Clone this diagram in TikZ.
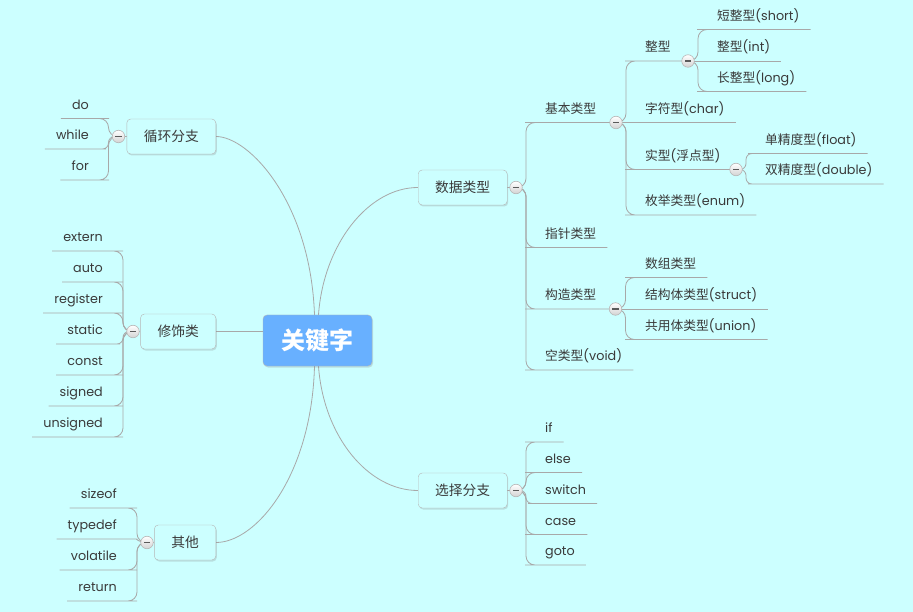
\documentclass[tikz,border=0pt]{standalone}
\usepackage{fontspec}
\setmainfont{Poppins}
\newfontfamily\zhfont{Noto Sans CJK SC}
\newcommand{\zhtext}[1]{{\zhfont #1}}
\usetikzlibrary{positioning,shadows}
\definecolor{bgcyan}{RGB}{204,255,255}
\definecolor{rootblue}{RGB}{104,176,255}
\definecolor{linegray}{RGB}{168,168,168}
\definecolor{boxgray}{RGB}{182,182,182}
\definecolor{txtgray}{RGB}{58,58,58}
\definecolor{minusgray}{RGB}{90,90,90}
\pgfdeclarelayer{bg}
\pgfsetlayers{bg,main}

\begin{document}
\begin{tikzpicture}[x=1pt,y=1pt,
  topic/.style={draw=boxgray, fill=bgcyan, rounded corners=4pt, minimum height=35pt, inner xsep=17pt,
    font=\zhfont\fontsize{13.75}{16}\selectfont, text=txtgray,
    drop shadow={opacity=0.25, shadow xshift=1pt, shadow yshift=-1.5pt}},
  leaf/.style={inner xsep=11pt, inner ysep=6.2pt, text height=9pt, text depth=3pt,
    font=\fontsize{12.75}{15}\selectfont, text=txtgray},
  fold/.style={circle, draw=boxgray, line width=0.6pt, minimum size=12.5pt, inner sep=0pt,
    top color=white, bottom color=gray!35,
    path picture={\fill[minusgray] ([xshift=-3.2pt,yshift=-0.9pt]path picture bounding box.center)
      rectangle ([xshift=3.2pt,yshift=0.9pt]path picture bounding box.center);}},
  branch/.style={draw=linegray, line width=0.8pt, rounded corners=9pt},
  tight/.style={rounded corners=6pt}]

\useasboundingbox (0,0) rectangle (913,-612);

% centre and main topics
\node[topic, fill=rootblue, text=white, minimum width=109pt, minimum height=51pt,
  font=\zhfont\bfseries\fontsize{24}{28}\selectfont] (root) at (317.5,-340.5) {关键字};
\node[topic, anchor=west] (data)  at (418,-187.5) {数据类型};
\node[topic, anchor=west] (sel)   at (418,-490.5) {选择分支};
\node[topic, anchor=east] (loop)  at (216,-136.5) {循环分支};
\node[topic, anchor=east] (mod)   at (216,-331.5) {修饰类};
\node[topic, anchor=east] (other) at (216,-542.5) {其他};

% fold buttons
\node[fold] (dataf)   at (516,-187.5) {};
\node[fold] (self)    at (516,-490.5) {};
\node[fold] (loopf)   at (118.5,-136.5) {};
\node[fold] (modf)    at (133,-331.5) {};
\node[fold] (otherf)  at (147,-542.5) {};
\node[fold] (basicf)  at (616,-122.5) {};
\node[fold] (intf)    at (688,-61) {};
\node[fold] (realf)   at (736,-169.5) {};
\node[fold] (structf) at (615.5,-309) {};

% data types
\node[leaf, anchor=south west] (basic)  at (534,-122.5) {\zhtext{基本类型}};
\node[leaf, anchor=south west] (ptr)    at (534,-247.5) {\zhtext{指针类型}};
\node[leaf, anchor=south west] (struct) at (534,-309)   {\zhtext{构造类型}};
\node[leaf, anchor=south west] (void)   at (534,-370)   {\zhtext{空类型}(void)};

\node[leaf, anchor=south west] (int)  at (634,-61)    {\zhtext{整型}};
\node[leaf, anchor=south west] (char) at (634,-122.5) {\zhtext{字符型}(char)};
\node[leaf, anchor=south west] (real) at (634,-169.5) {\zhtext{实型}(\zhtext{浮点型})};
\node[leaf, anchor=south west] (enum) at (634,-215)   {\zhtext{枚举类型}(enum)};

\node[leaf, anchor=south west] (short) at (706,-29.5) {\zhtext{短整型}(short)};
\node[leaf, anchor=south west] (intv)  at (706,-61)   {\zhtext{整型}(int)};
\node[leaf, anchor=south west] (long)  at (706,-91.5) {\zhtext{长整型}(long)};

\node[leaf, anchor=south west] (float)  at (754,-153.5) {\zhtext{单精度型}(float)};
\node[leaf, anchor=south west] (double) at (754,-184)   {\zhtext{双精度型}(double)};

\node[leaf, anchor=south west] (array)   at (634,-277.5) {\zhtext{数组类型}};
\node[leaf, anchor=south west] (structv) at (634,-309)   {\zhtext{结构体类型}(struct)};
\node[leaf, anchor=south west] (union)   at (634,-339.5) {\zhtext{共用体类型}(union)};

% selection
\node[leaf, anchor=south west] (s-if)     at (534,-442)   {if};
\node[leaf, anchor=south west] (s-else)   at (534,-472.5) {else};
\node[leaf, anchor=south west] (s-switch) at (534,-503.5) {switch};
\node[leaf, anchor=south west] (s-case)   at (534,-534.5) {case};
\node[leaf, anchor=south west] (s-goto)   at (534,-565)   {goto};

% loops
\node[leaf, anchor=south east] (l-do)    at (100,-118.5) {do};
\node[leaf, anchor=south east] (l-while) at (100,-149)   {while};
\node[leaf, anchor=south east] (l-for)   at (100,-180)   {for};

% modifiers
\node[leaf, anchor=south east] (m-extern)   at (114,-251) {extern};
\node[leaf, anchor=south east] (m-auto)     at (114,-282) {auto};
\node[leaf, anchor=south east] (m-register) at (114,-313) {register};
\node[leaf, anchor=south east] (m-static)   at (114,-344) {static};
\node[leaf, anchor=south east] (m-const)    at (114,-375) {const};
\node[leaf, anchor=south east] (m-signed)   at (114,-406) {signed};
\node[leaf, anchor=south east] (m-unsigned) at (114,-437) {unsigned};

% others
\node[leaf, anchor=south east] (o-sizeof)   at (128,-508) {sizeof};
\node[leaf, anchor=south east] (o-typedef)  at (128,-539) {typedef};
\node[leaf, anchor=south east] (o-volatile) at (128,-570) {volatile};
\node[leaf, anchor=south east] (o-return)   at (128,-601) {return};

\begin{pgfonlayer}{bg}
  \fill[bgcyan] (0,0) rectangle (913,-612);

  % centre to topics
  \draw[branch] ([xshift=-3pt]root.north) .. controls +(-4,113) and +(33,0) .. (loop.east);
  \draw[branch] ([xshift=1pt]root.north) .. controls +(5,70) and +(-50,0) .. (data.west);
  \draw[branch] ([xshift=-3pt]root.south) .. controls +(-3,-110) and +(40,0) .. (other.east);
  \draw[branch] ([xshift=1pt]root.south) .. controls +(5,-70) and +(-50,0) .. (sel.west);
  \draw[branch] (mod.east) -- (mod.east -| root.west);

  \draw[branch] (data.east) -- (dataf.center);
  \draw[branch] (sel.east) -- (self.center);
  \draw[branch] (loop.west) -- (loopf.center);
  \draw[branch] (mod.west) -- (modf.center);
  \draw[branch] (other.west) -- (otherf.center);

  % data types
  \draw[branch] (dataf.center) -- ++(10,0) |- (basic.south west) -- (basicf.center);
  \draw[branch] (dataf.center) -- ++(10,0) |- (ptr.south west) -- (ptr.south east);
  \draw[branch] (dataf.center) -- ++(10,0) |- (struct.south west) -- (structf.center);
  \draw[branch] (dataf.center) -- ++(10,0) |- (void.south west) -- (void.south east);

  \draw[branch] (basicf.center) -- ++(10,0) |- (int.south west) -- (intf.center);
  \draw[branch] (basicf.center) -- (char.south east);
  \draw[branch] (basicf.center) -- ++(10,0) |- (real.south west) -- (realf.center);
  \draw[branch] (basicf.center) -- ++(10,0) |- (enum.south west) -- (enum.south east);

  \draw[branch] (intf.center) -- ++(10,0) |- (short.south west) -- (short.south east);
  \draw[branch] (intf.center) -- (intv.south east);
  \draw[branch] (intf.center) -- ++(10,0) |- (long.south west) -- (long.south east);

  \draw[branch, tight] (realf.center) -- ++(10,0) |- (float.south west) -- (float.south east);
  \draw[branch, tight] (realf.center) -- ++(10,0) |- (double.south west) -- (double.south east);

  \draw[branch] (structf.center) -- ++(10,0) |- (array.south west) -- (array.south east);
  \draw[branch] (structf.center) -- (structv.south east);
  \draw[branch] (structf.center) -- ++(10,0) |- (union.south west) -- (union.south east);

  % selection
  \draw[branch] (self.center) -- ++(10,0) |- (s-if.south west) -- (s-if.south east);
  \draw[branch] (self.center) -- ++(10,0) |- (s-else.south west) -- (s-else.south east);
  \draw[branch, tight] (self.center) -- ++(10,0) |- (s-switch.south west) -- (s-switch.south east);
  \draw[branch] (self.center) -- ++(10,0) |- (s-case.south west) -- (s-case.south east);
  \draw[branch] (self.center) -- ++(10,0) |- (s-goto.south west) -- (s-goto.south east);

  % loops
  \draw[branch] (loopf.center) -- ++(-10,0) |- (l-do.south east) -- (l-do.south west);
  \draw[branch, tight] (loopf.center) -- ++(-10,0) |- (l-while.south east) -- (l-while.south west);
  \draw[branch] (loopf.center) -- ++(-10,0) |- (l-for.south east) -- (l-for.south west);

  % modifiers
  \draw[branch] (modf.center) -- ++(-10,0) |- (m-extern.south east) -- (m-extern.south west);
  \draw[branch] (modf.center) -- ++(-10,0) |- (m-auto.south east) -- (m-auto.south west);
  \draw[branch] (modf.center) -- ++(-10,0) |- (m-register.south east) -- (m-register.south west);
  \draw[branch, tight] (modf.center) -- ++(-10,0) |- (m-static.south east) -- (m-static.south west);
  \draw[branch] (modf.center) -- ++(-10,0) |- (m-const.south east) -- (m-const.south west);
  \draw[branch] (modf.center) -- ++(-10,0) |- (m-signed.south east) -- (m-signed.south west);
  \draw[branch] (modf.center) -- ++(-10,0) |- (m-unsigned.south east) -- (m-unsigned.south west);

  % others
  \draw[branch] (otherf.center) -- ++(-10,0) |- (o-sizeof.south east) -- (o-sizeof.south west);
  \draw[branch] (otherf.center) to[out=180,in=0] (o-typedef.south east) -- (o-typedef.south west);
  \draw[branch] (otherf.center) -- ++(-10,0) |- (o-volatile.south east) -- (o-volatile.south west);
  \draw[branch] (otherf.center) -- ++(-10,0) |- (o-return.south east) -- (o-return.south west);
\end{pgfonlayer}
\end{tikzpicture}
\end{document}
